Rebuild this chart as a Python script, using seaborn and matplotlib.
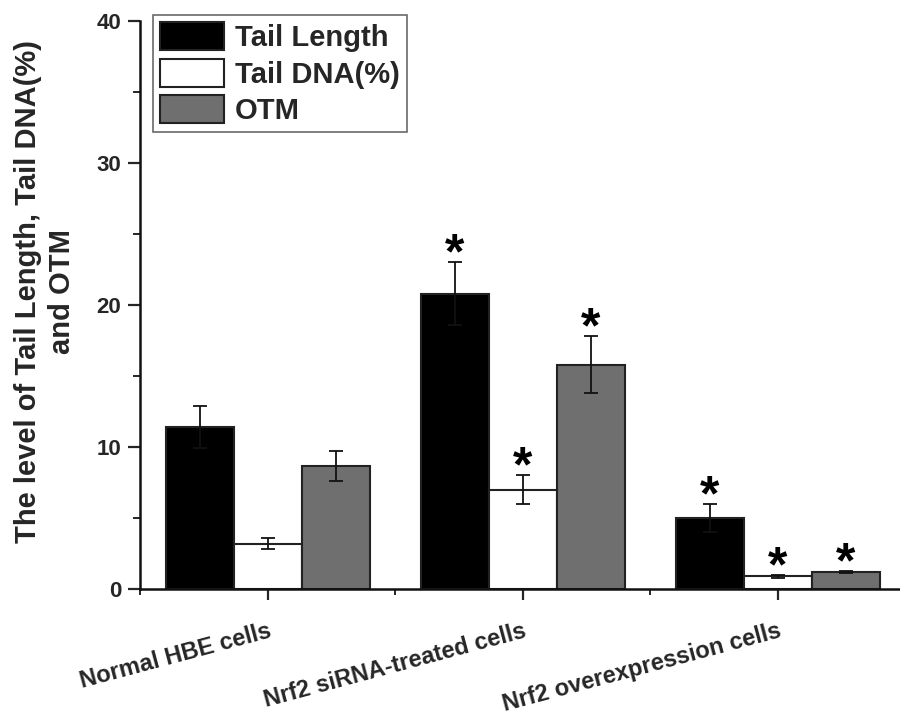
import numpy as np
import pandas as pd
import matplotlib
matplotlib.use("Agg")
import matplotlib.pyplot as plt
import seaborn as sns
from matplotlib.ticker import MultipleLocator, FixedLocator

# Comet assay results per cell group
groups = ["Normal HBE cells", "Nrf2 siRNA-treated cells", "Nrf2 overexpression cells"]
metrics = ["Tail Length", "Tail DNA(%)", "OTM"]

tail_length = [11.4, 20.8, 5.0]
tail_length_err = [1.5, 2.2, 1.0]
tail_dna = [3.2, 7.0, 0.9]
tail_dna_err = [0.4, 1.0, 0.1]
otm = [8.65, 15.8, 1.2]
otm_err = [1.05, 2.0, 0.08]

# significance markers (True = asterisk above bar)
sig_tail_length = [False, True, True]
sig_tail_dna = [False, True, True]
sig_otm = [False, True, True]

colors = ["#000000", "#ffffff", "#6f6f6f"]

sns.set_theme(style="ticks")
plt.rcParams["font.family"] = ["Liberation Sans", "DejaVu Sans"]
plt.rcParams["font.weight"] = "bold"

df = pd.DataFrame({
    "group": groups * 3,
    "metric": [m for m in metrics for _ in groups],
    "value": tail_length + tail_dna + otm,
})
errs = dict(zip(metrics, [tail_length_err, tail_dna_err, otm_err]))
sigs = dict(zip(metrics, [sig_tail_length, sig_tail_dna, sig_otm]))

fig = plt.figure(figsize=(9, 7.15), dpi=100)
ax = fig.add_axes([0.1556, 0.1762, 0.8444, 0.7944])

sns.barplot(data=df, x="group", y="value", hue="metric", order=groups,
            hue_order=metrics, palette=colors, errorbar=None, width=0.8,
            edgecolor="#222222", linewidth=1.5, saturation=1, ax=ax)

# error bars and asterisks drawn on the bar containers
for container, m in zip(ax.containers, metrics):
    for i, bar in enumerate(container):
        cx = bar.get_x() + bar.get_width() / 2
        h = bar.get_height()
        ax.errorbar(cx, h, yerr=errs[m][i], fmt="none", ecolor="#111111",
                    elinewidth=1.3, capsize=5, capthick=1.3, zorder=5)
        if sigs[m][i]:
            ax.text(cx, h + errs[m][i] - 0.45, "*", ha="center", va="baseline",
                    fontsize=36, fontweight="bold", color="black")

ax.set_xlim(-0.5, 2.48)
ax.set_ylim(0, 40)
ax.yaxis.set_major_locator(MultipleLocator(10))
ax.yaxis.set_minor_locator(MultipleLocator(5))
ax.xaxis.set_minor_locator(FixedLocator([-0.5, 0.5, 1.5, 2.5]))

for side in ["top", "right"]:
    ax.spines[side].set_visible(False)
for side in ["left", "bottom"]:
    ax.spines[side].set_linewidth(1.8)
    ax.spines[side].set_color("#111111")

ax.tick_params(axis="y", which="major", direction="out", length=8.5, width=1.6,
               labelsize=16, pad=5)
ax.tick_params(axis="y", which="minor", direction="out", length=5, width=1.4)
ax.tick_params(axis="x", which="major", direction="out", length=8, width=1.6,
               labelsize=17, pad=14)
ax.tick_params(axis="x", which="minor", direction="out", length=4, width=1.4)

for lab in ax.get_yticklabels():
    lab.set_fontweight("bold")
ax.set_xticks(range(len(groups)))
ax.set_xticklabels(groups, rotation=15, ha="right", rotation_mode="anchor",
                   fontweight="bold")

ax.set_xlabel("")
ax.set_ylabel("The level of Tail Length, Tail DNA(%)\nand OTM", fontsize=21,
              fontweight="bold", linespacing=1.3)
ax.yaxis.set_label_coords(-0.084, 0.523)

leg = ax.legend(loc="upper left", bbox_to_anchor=(0.170, 0.979),
                bbox_transform=fig.transFigure, frameon=True, fancybox=False,
                fontsize=21, handlelength=2.2, handleheight=1.1,
                labelspacing=0.22, borderpad=0.25, handletextpad=0.35,
                borderaxespad=0)
leg.get_frame().set_edgecolor("#444444")
leg.get_frame().set_linewidth(1.2)
for t in leg.get_texts():
    t.set_fontweight("bold")

fig.savefig("out.png", dpi=100)
